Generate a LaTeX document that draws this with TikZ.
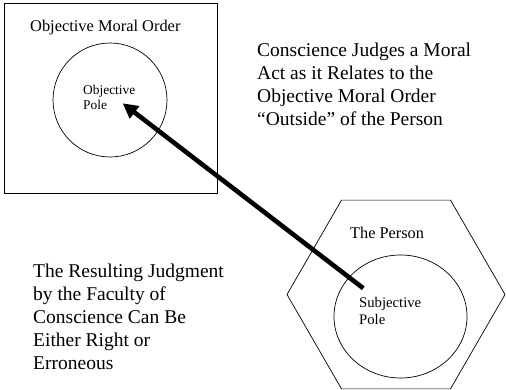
\documentclass[tikz,border=0pt]{standalone}
\usepackage{fontspec}
\setmainfont{Liberation Serif}
\usetikzlibrary{shapes.geometric,arrows.meta}
\begin{document}
\begin{tikzpicture}[x=1pt,y=-1pt,
  frame/.style={draw,line width=0.7pt,inner sep=0pt},
  bigtext/.style={inner sep=0pt,anchor=north west,align=left,font=\fontsize{19.5}{23}\selectfont},
  arrowline/.style={line width=4.6pt,-{Triangle[length=15pt,width=15pt]}}]
\useasboundingbox (0,0) rectangle (506,390);
% objective moral order box
\node[frame,rectangle,minimum width=213pt,minimum height=190pt] (box) at (110.5,98) {};
\node[inner sep=0pt,anchor=base west,font=\fontsize{16.4}{19}\selectfont] (boxlabel) at (30,32) {Objective Moral Order};
\node[frame,circle,minimum size=114pt] (objpole) at (110,100) {};
\node[inner sep=0pt,anchor=north west,align=left,font=\fontsize{13.4}{15}\selectfont] (objlabel) at (83,85) {Objective\\Pole};
% person
\node[frame,regular polygon,regular polygon sides=6,minimum size=218pt] (person) at (396,294.5) {};
\node[inner sep=0pt,anchor=base west,font=\fontsize{16.3}{19}\selectfont] (personlabel) at (350,239) {The Person};
\node[frame,ellipse,minimum width=133pt,minimum height=123pt] (subjpole) at (400.5,316.5) {};
\node[inner sep=0pt,anchor=north west,align=left,font=\fontsize{14.7}{16.3}\selectfont] (subjlabel) at (359,297.5) {Subjective\\Pole};
% texts
\node[bigtext] (judges) at (257,42.5) {Conscience Judges a Moral\\Act as it Relates to the\\Objective Moral Order\\``Outside'' of the Person};
\node[bigtext] (result) at (33,263.5) {The Resulting Judgment\\by the Faculty of\\Conscience Can Be\\Either Right or\\Erroneous};
% arrow
\coordinate (from) at (363.3,288.3);
\coordinate (to) at (122.7,103.3);
\draw[arrowline] (from) -- (to);
\end{tikzpicture}
\end{document}
